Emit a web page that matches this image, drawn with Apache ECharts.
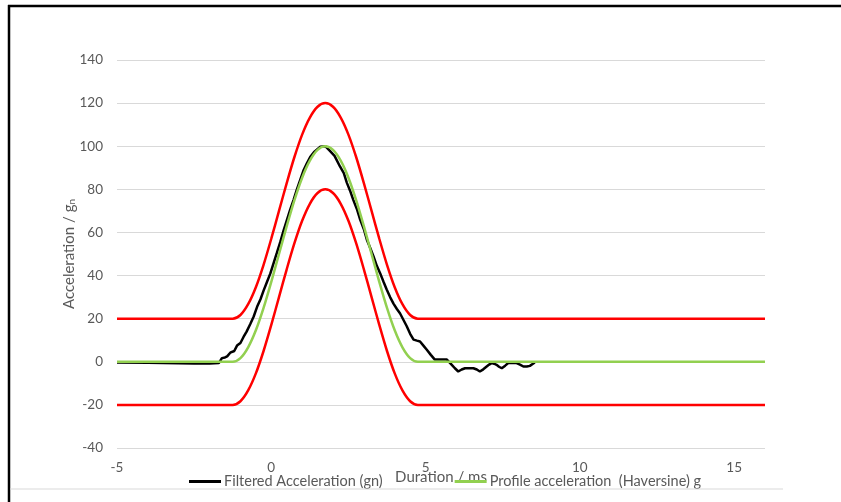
<!DOCTYPE html>
<html>
<head>
<meta charset="utf-8">
<script src="https://cdn.jsdelivr.net/npm/echarts@6/dist/echarts.min.js"></script>
<style>
html,body{margin:0;padding:0;background:#fff;}
#chart{width:841px;height:502px;}
</style>
</head>
<body>
<div id="chart"></div>
<script>
// Filtered acceleration (measured), time in ms
var filteredT = [-5, -4, -3, -2.5, -2, -1.7, -1.6, -1.5, -1.43, -1.33, -1.2, -1.11, -1.0, -0.9, -0.8, -0.68, -0.57, -0.46, -0.35, -0.25, -0.14, -0.03, 0.08, 0.18, 0.29, 0.4, 0.5, 0.61, 0.72, 0.83, 0.94, 1.05, 1.15, 1.26, 1.4, 1.59, 1.75, 1.9, 2.05, 2.23, 2.35, 2.45, 2.55, 2.66, 2.77, 2.88, 3.0, 3.1, 3.2, 3.31, 3.42, 3.53, 3.64, 3.74, 3.85, 3.96, 4.07, 4.17, 4.28, 4.39, 4.5, 4.61, 4.72, 4.82, 4.93, 5.04, 5.17, 5.3, 5.5, 5.69, 5.85, 5.95, 6.06, 6.17, 6.28, 6.4, 6.55, 6.66, 6.76, 6.87, 6.98, 7.06, 7.14, 7.22, 7.3, 7.38, 7.47, 7.58, 7.68, 7.8, 7.95, 8.06, 8.17, 8.28, 8.38, 8.48, 8.54];
var filteredA = [-0.3, -0.5, -0.7, -0.8, -0.8, -0.6, 1.7, 2.0, 2.5, 4.2, 5.0, 7.5, 8.7, 11.5, 14, 17.5, 21, 25.5, 29, 33, 37, 41, 46, 50.5, 55.5, 61, 65.5, 70.5, 75, 80, 84.5, 89, 92, 95, 97.5, 99.8, 100, 97.8, 95.5, 90.5, 87.5, 83, 79.5, 75, 71, 66, 61.5, 56.5, 53, 49, 44.5, 41, 37, 33.5, 30, 27, 24.5, 22.5, 19.5, 16.5, 13, 10.3, 9.8, 9.4, 7.5, 5.6, 3.2, 1.0, 1.0, 1.0, -1.4, -3, -4.5, -3.6, -3, -3, -3, -3.6, -4.5, -3.5, -2.2, -1.3, -0.6, -0.9, -1.4, -2.3, -3, -1.8, -0.6, -0.5, -0.6, -1.3, -2.2, -2.2, -1.9, -0.9, -0.3];

// Haversine profile and tolerance limits, time in ms
var profileT = [-5, -1.25, -1.0, -0.75, -0.5, -0.25, 0, 0.25, 0.5, 0.75, 1.0, 1.25, 1.5, 1.75, 2.0, 2.25, 2.5, 2.75, 3.0, 3.25, 3.5, 3.75, 4.0, 4.25, 4.5, 4.75, 16];
var profileA = [0, 0, 1.7, 6.7, 14.6, 25, 37.1, 50, 62.9, 75, 85.4, 93.3, 98.3, 100, 98.3, 93.3, 85.4, 75, 62.9, 50, 37.1, 25, 14.6, 6.7, 1.7, 0, 0];
var upperA = [20, 20, 21.7, 26.7, 34.6, 45, 57.1, 70, 82.9, 95, 105.4, 113.3, 118.3, 120, 118.3, 113.3, 105.4, 95, 82.9, 70, 57.1, 45, 34.6, 26.7, 21.7, 20, 20];
var lowerA = [-20, -20, -18.3, -13.3, -5.4, 5, 17.1, 30, 42.9, 55, 65.4, 73.3, 78.3, 80, 78.3, 73.3, 65.4, 55, 42.9, 30, 17.1, 5, -5.4, -13.3, -18.3, -20, -20];

var xTicks = {min: -5, max: 16, interval: 5};
var yTicks = {min: -40, max: 140, interval: 20};

var seriesNames = ['Filtered Acceleration (gn)', 'Profile acceleration  (Haversine) g'];

function pairs(xs, ys) { return xs.map(function (x, i) { return [x, ys[i]]; }); }

var font = 'Lato, "Open Sans", sans-serif';
var chart = echarts.init(document.getElementById('chart'));
chart.setOption({
  animation: false,
  backgroundColor: '#fff',
  textStyle: {fontFamily: font},
  grid: {left: 117, right: 76, top: 60, bottom: 54, containLabel: false},
  legend: {
    data: seriesNames,
    left: 184, top: 469,
    itemWidth: 32, itemHeight: 3, itemGap: 72,
    icon: 'rect',
    textStyle: {fontFamily: font, fontSize: 14.5, color: '#595959', padding: [0, 0, 0, -2]}
  },
  xAxis: {
    type: 'value',
    min: xTicks.min, max: xTicks.max, interval: xTicks.interval,
    name: 'Duration / ms',
    nameLocation: 'middle', nameGap: 22, nameMoveOverlap: false,
    nameTextStyle: {fontFamily: font, fontSize: 15, color: '#595959'},
    axisLine: {show: false},
    axisTick: {show: false},
    splitLine: {show: false},
    axisLabel: {margin: 13, fontSize: 13.5, color: '#595959', fontFamily: font, showMaxLabel: false}
  },
  yAxis: {
    type: 'value',
    min: yTicks.min, max: yTicks.max, interval: yTicks.interval,
    name: 'Acceleration / g{sub|n}',
    nameLocation: 'middle', nameGap: 40, nameRotate: 90, nameMoveOverlap: false,
    nameTextStyle: {fontFamily: font, fontSize: 15, color: '#595959',
      rich: {sub: {fontFamily: font, fontSize: 10, color: '#595959', padding: [6, 0, 0, 0]}}},
    axisLine: {show: false},
    axisTick: {show: false},
    splitLine: {lineStyle: {color: '#d9d9d9', width: 1}},
    axisLabel: {margin: 14, fontSize: 13.5, color: '#595959', fontFamily: font}
  },
  series: [
    {name: seriesNames[0], type: 'line', data: pairs(filteredT, filteredA), showSymbol: false, symbol: 'none',
     lineStyle: {color: '#000', width: 2.5}, itemStyle: {color: '#000'}, z: 2},
    {name: seriesNames[1], type: 'line', data: pairs(profileT, profileA), showSymbol: false, symbol: 'none', smooth: 0.3,
     lineStyle: {color: '#92d050', width: 2.5}, itemStyle: {color: '#92d050'}, z: 3},
    {name: 'Upper limit', type: 'line', data: pairs(profileT, upperA), showSymbol: false, symbol: 'none', smooth: 0.3,
     lineStyle: {color: '#ff0000', width: 2.5}, itemStyle: {color: '#ff0000'}, z: 4},
    {name: 'Lower limit', type: 'line', data: pairs(profileT, lowerA), showSymbol: false, symbol: 'none', smooth: 0.3,
     lineStyle: {color: '#ff0000', width: 2.5}, itemStyle: {color: '#ff0000'}, z: 4}
  ],
  graphic: [
    {type: 'line', shape: {x1: 8, y1: 6, x2: 841, y2: 6}, style: {stroke: '#000', lineWidth: 2.5}, z: 10},
    {type: 'line', shape: {x1: 9, y1: 5, x2: 9, y2: 502}, style: {stroke: '#000', lineWidth: 2.5}, z: 10},
    {type: 'line', shape: {x1: 10, y1: 489, x2: 783, y2: 489}, style: {stroke: '#d9d9d9', lineWidth: 1}, z: 10}
  ]
});
</script>
</body>
</html>
